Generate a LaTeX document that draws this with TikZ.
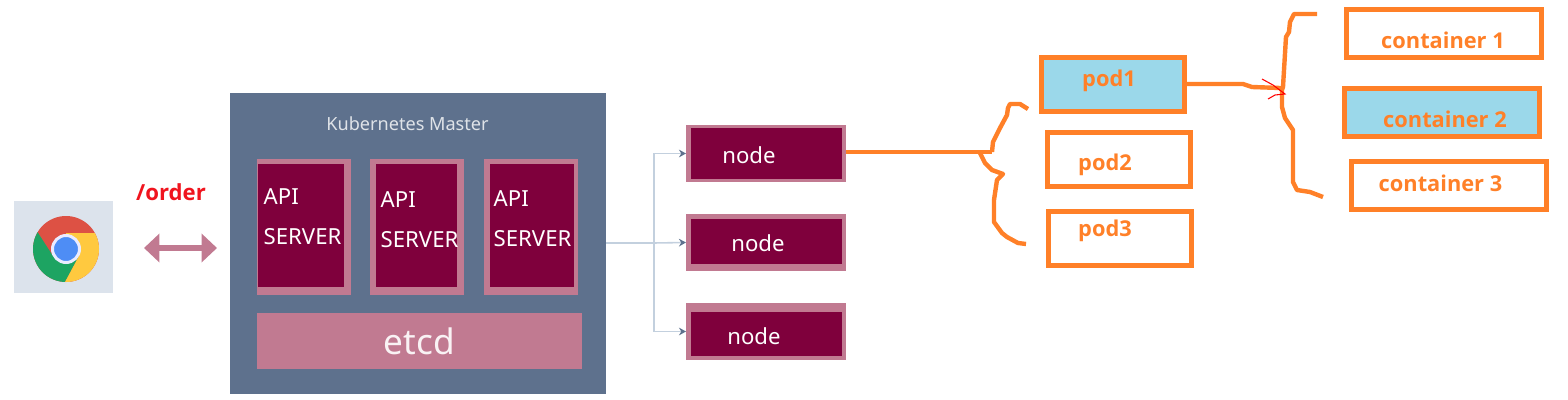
\documentclass[tikz,border=0pt]{standalone}
\usepackage{fontspec}
\setmainfont{Noto Sans}
\newfontfamily\penfont{Open Sans}
\usepackage{xcolor}
\usetikzlibrary{arrows.meta, positioning, calc}
\definecolor{masterblue}{HTML}{5E718D}
\definecolor{wine}{HTML}{7F003C}
\definecolor{rosepink}{HTML}{C17A91}
\definecolor{linkblue}{HTML}{C3D0DE}
\definecolor{penorange}{HTML}{FF8028}
\definecolor{podblue}{HTML}{9BD8EA}
\definecolor{orderred}{HTML}{F0141E}
\definecolor{iconback}{HTML}{DCE3EC}
\definecolor{iconred}{HTML}{DD5144}
\definecolor{icongreen}{HTML}{1DA462}
\definecolor{iconyellow}{HTML}{FFC93F}
\definecolor{iconblue}{HTML}{4E8DF5}
\def\px{0.2845pt}
\tikzset{
  plainbox/.style={inner sep=0pt, outer sep=0pt},
  nodeback/.style={plainbox, fill=rosepink, minimum width=160*\px},
  nodebox/.style={plainbox, fill=wine, minimum width=151*\px},
  nodetext/.style={inner sep=0pt, text=white, font=\fontsize{6.3pt}{7.5pt}\selectfont},
  apitext/.style={inner sep=0pt, anchor=west, text=white, font=\fontsize{6.3pt}{7.5pt}\selectfont},
  podbox/.style={plainbox, draw=penorange, line width=5*\px, minimum width=143*\px, minimum height=54*\px},
  contbox/.style={plainbox, draw=penorange, line width=5*\px, minimum width=195*\px, minimum height=48*\px},
  pentext/.style={inner sep=0pt, text=penorange, font=\fontsize{6.2pt}{7.4pt}\selectfont\penfont\bfseries},
  penline/.style={draw=penorange, line width=4.4*\px, line join=round},
  link/.style={draw=linkblue, line width=0.45pt},
  linktip/.style={-{Stealth[length=2pt, width=2.2pt, color=masterblue]}}
}
\begin{document}
\begin{tikzpicture}[x=0.01cm, y=-0.01cm]
  \useasboundingbox (0,0) rectangle (1568,400);
  % Browser icon
  \fill[iconback] (14,201) rectangle (113,293);
  \coordinate (chrome) at (66,249);
  \begin{scope}
    \clip (chrome) circle (33);
    \fill[iconred] (20,205) rectangle (112,295);
    \fill[icongreen] (53,256) -- (31,222) -- (20,222) -- (20,295) -- (58,295) -- (79,256) -- cycle;
    \fill[iconyellow] (66,233) -- (110,233) -- (110,295) -- (58,295) -- (79,256) -- (66,249) -- cycle;
  \end{scope}
  \filldraw[draw=white!92!blue, line width=3*\px, fill=iconblue] (chrome) circle (13.5);
  % Request arrow
  \node[plainbox, text=orderred, font=\fontsize{6.3pt}{7.5pt}\selectfont\penfont\bfseries] (order) at (171,192) {/order};
  \coordinate (reqleft) at (144,248);
  \coordinate (reqright) at (217,248);
  \draw[rosepink, line width=5*\px, {Triangle[length=4.4pt, width=8pt]}-{Triangle[length=4.4pt, width=8pt]}] (reqleft) -- (reqright);
  % Master
  \node[plainbox, fill=masterblue, minimum width=376*\px, minimum height=301*\px] (master) at (418,243.5) {};
  \node[plainbox, text=white!80!masterblue, font=\fontsize{5.15pt}{6pt}\selectfont] (mastertitle) at (407.5,124) {Kubernetes Master};
  \foreach \bx/\ix/\iw/\tx/\ty [count=\ci from 1] in {304/301/85/263/197, 417/416.5/81/380/200, 531/532/84/493/199} {
    \node[plainbox, fill=rosepink, minimum width=94*\px, minimum height=136*\px] (apiback\ci) at (\bx,227) {};
    \node[plainbox, fill=wine, minimum width=\iw*\px, minimum height=123*\px] (api\ci) at (\ix,225.5) {};
    \node[apitext] (apiname\ci) at (\tx,\ty) {API};
    \node[apitext] (apiserver\ci) at (\tx,\ty+39.5) {SERVER};
  }
  \node[plainbox, fill=rosepink, text=white!90!rosepink, minimum width=325*\px, minimum height=56*\px, font=\fontsize{10pt}{12pt}\selectfont] (etcd) at (419.5,341) {etcd};
  % Worker nodes
  \foreach \by/\iy/\ih/\tx/\ty [count=\ni from 1] in {153.5/153.5/51/749/155, 242.5/241.5/45/758/243, 331.5/334/44/754/336} {
    \node[nodeback, minimum height=57*\px] (node\ni) at (766,\by) {};
    \node[nodebox, minimum height=\ih*\px] (nodeinner\ni) at (766.5,\iy) {};
    \node[nodetext] (nodename\ni) at (\tx,\ty) {node};
  }
  \coordinate (fork) at (654,243);
  \draw[link] (master.east |- fork) -- (fork);
  \draw[link, linktip] (fork) |- (node1.west);
  \draw[link, linktip] (fork) -- (node2.west);
  \draw[link, linktip] (fork) |- (node3.west);
  % Pods
  \node[podbox, fill=podblue] (pod1) at (1113,84.5) {};
  \node[podbox] (pod2) at (1119,159.5) {};
  \node[podbox] (pod3) at (1120,238.5) {};
  \node[pentext] (podname1) at (1109,81) {pod1};
  \node[pentext] (podname2) at (1105,165) {pod2};
  \node[pentext] (podname3) at (1105,231) {pod3};
  % Containers
  \node[contbox] (cont1) at (1444,33.5) {};
  \node[contbox, fill=podblue] (cont2) at (1442,112.5) {};
  \node[contbox] (cont3) at (1449,185.5) {};
  \node[pentext] (contname1) at (1443,40) {container 1};
  \node[pentext] (contname2) at (1445,119.5) {container 2};
  \node[pentext] (contname3) at (1440.5,183.5) {container 3};
  % Hand drawn braces
  \coordinate (braceA) at (992,152);
  \coordinate (braceB) at (1282,90);
  \draw[penline] (node1.east |- braceA) -- (braceA);
  \draw[penline] (1028,109) -- (1020,104) -- (1010,104) -- (1008,108) -- (1007,115) -- (1000,128) -- (993,142) -- (braceA);
  \draw[penline] (980,153) -- (985,163) -- (992,170) -- (1003,174) -- (997,180) -- (994,200) -- (994,222) -- (1002,233) -- (1007,237) -- (1018,243) -- (1026,244);
  \draw[penline] (pod1.east |- 1188,84) -- (1243,84) -- (1252,87) -- (1280,88) -- (braceB);
  \draw[penline] (1317,14) -- (1294,14) -- (1290,22) -- (1289,32) -- (1286,37) -- (1283,87) -- (braceB) -- (1282,107) -- (1285,118) -- (1293,130) -- (1293,182) -- (1297,190) -- (1310,192) -- (1323,197);
  \draw[red, line width=0.3pt] (1262,79) -- (1273,85) -- (1285,94) -- (1275,95) -- (1268,99);
\end{tikzpicture}
\end{document}
